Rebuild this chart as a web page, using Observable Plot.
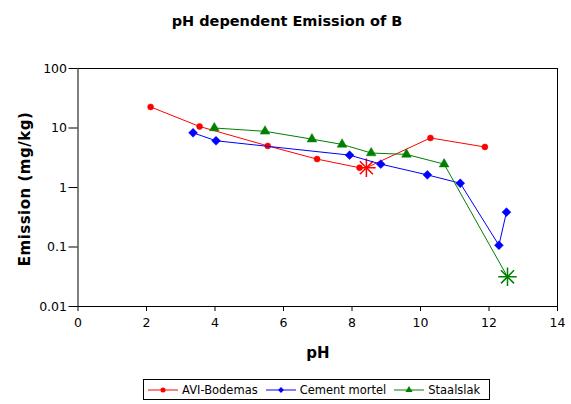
<!DOCTYPE html>
<html>
<head>
<meta charset="utf-8">
<script src="https://cdn.jsdelivr.net/npm/d3@7"></script>
<script src="https://cdn.jsdelivr.net/npm/@observablehq/plot@0.6"></script>
<style>
  html, body { margin: 0; padding: 0; background: #fff; }
  #wrap { position: relative; width: 571px; height: 404px; font-family: "DejaVu Sans", Verdana, sans-serif; color: #000; overflow: hidden; }
  #title { position: absolute; left: 0; width: 571px; top: 13px; line-height: 16px; text-align: center; font-weight: bold; font-size: 14.5px; padding-left: 3px; box-sizing: border-box; }
  #chart { position: absolute; left: 0; top: 40px; }
  #ylabel { position: absolute; left: 25px; top: 189px; transform: translate(-50%, -50%) rotate(-90deg); font-weight: bold; font-size: 15px; letter-spacing: 0.5px; white-space: nowrap; }
  #xlabel { position: absolute; left: 297px; width: 42px; top: 345px; line-height: 16px; text-align: center; font-weight: bold; font-size: 15px; }
  #legend { position: absolute; left: 143px; top: 379px; height: 19px; border: 1px solid #000; display: flex; align-items: center; padding: 0 9px 0 4px; font-size: 11.5px; white-space: nowrap; }
  .item { display: flex; align-items: center; margin-right: 8px; }
  .item:last-child { margin-right: 0; }
  .item svg { margin-right: 4px; }
</style>
</head>
<body>
<div id="wrap">
  <div id="title">pH dependent Emission of B</div>
  <div id="chart"></div>
  <div id="ylabel">Emission (mg/kg)</div>
  <div id="xlabel">pH</div>
  <div id="legend"></div>
</div>
<script>
// ---- data ----
const seriesNames = ["AVI-Bodemas", "Cement mortel", "Staalslak"];
const seriesColors = ["#ff0000", "#0000ff", "#008000"];
const seriesSymbols = ["circle", "diamond2", "triangle"];

const aviPH   = [2.12, 3.55, 5.54, 6.98, 8.22, 8.42, 10.29, 11.88];
const aviEm   = [22.6, 10.6, 5.0, 3.0, 2.15, 2.15, 6.8, 4.8];
const aviStar = [false, false, false, false, false, true, false, false];

const cemPH   = [3.36, 4.03, 7.93, 8.84, 10.2, 11.16, 12.29, 12.51];
const cemEm   = [8.3, 6.1, 3.5, 2.47, 1.63, 1.18, 0.107, 0.385];
const cemStar = [false, false, false, false, false, false, false, false];

const staPH   = [3.98, 5.46, 6.83, 7.71, 8.56, 9.59, 10.69, 12.54];
const staEm   = [10.0, 8.8, 6.5, 5.3, 3.8, 3.6, 2.47, 0.0315];
const staStar = [false, false, false, false, false, false, false, true];

const xTicks = [0, 2, 4, 6, 8, 10, 12, 14];
const yTicks = [0.01, 0.1, 1, 10, 100];
const yTickLabels = ["0.01", "0.1", "1", "10", "100"];

// ---- build tidy table ----
const raw = [[aviPH, aviEm, aviStar], [cemPH, cemEm, cemStar], [staPH, staEm, staStar]];
const data = [];
raw.forEach(([ph, em, st], s) => {
  ph.forEach((p, i) => data.push({series: seriesNames[s], ph: p, em: em[i], star: st[i]}));
});

const markerR = {circle: 3, diamond2: 4, triangle: 3.6};

const marks = [Plot.frame({stroke: "#000", strokeWidth: 1})];
seriesNames.forEach((name, i) => {
  const d = data.filter(r => r.series === name);
  marks.push(Plot.line(d, {x: "ph", y: "em", stroke: seriesColors[i], strokeWidth: 1}));
  marks.push(Plot.dot(d.filter(r => !r.star), {
    x: "ph", y: "em", symbol: () => seriesSymbols[i], fill: seriesColors[i], stroke: seriesColors[i], strokeWidth: 0.5,
    r: markerR[seriesSymbols[i]]
  }));
  const stars = d.filter(r => r.star);
  marks.push(Plot.dot(stars, {x: "ph", y: "em", symbol: () => "plus", stroke: seriesColors[i], fill: "none", strokeWidth: 1.5, r: 6}));
  marks.push(Plot.dot(stars, {x: "ph", y: "em", symbol: () => "times", stroke: seriesColors[i], fill: "none", strokeWidth: 1.5, r: 6}));
});

const chart = Plot.plot({
  width: 571,
  height: 300,
  marginLeft: 77.5,
  marginRight: 14,
  marginTop: 28,
  marginBottom: 34,
  style: {fontFamily: "DejaVu Sans, Verdana, sans-serif", fontSize: "12.5px", color: "#000", background: "#fff", overflow: "visible"},
  symbol: {type: "identity"},
  x: {domain: [0, 14], ticks: xTicks, tickSize: 5, tickPadding: 7, label: null, tickFormat: d => String(d)},
  y: {type: "log", domain: [0.01, 100], ticks: yTicks, tickSize: 9, tickPadding: 2, label: null,
      tickFormat: d => yTickLabels[yTicks.findIndex(t => Math.abs(t - d) < t * 1e-6)]},
  marks
});
document.getElementById("chart").appendChild(chart);

// ---- legend ----
const legend = document.getElementById("legend");
seriesNames.forEach((name, i) => {
  const item = document.createElement("div");
  item.className = "item";
  const type = seriesSymbols[i] === "circle" ? d3.symbolCircle :
               seriesSymbols[i] === "diamond2" ? d3.symbolDiamond2 : d3.symbolTriangle;
  const sym = d3.symbol().type(type).size(seriesSymbols[i] === "circle" ? 20 : 22)();
  item.innerHTML =
    `<svg width="30" height="10" viewBox="0 0 30 10">
       <line x1="0" y1="5" x2="30" y2="5" stroke="${seriesColors[i]}" stroke-width="1"/>
       <path d="${sym}" transform="translate(15,5)" fill="${seriesColors[i]}"/>
     </svg><span>${name}</span>`;
  legend.appendChild(item);
});
</script>
</body>
</html>
